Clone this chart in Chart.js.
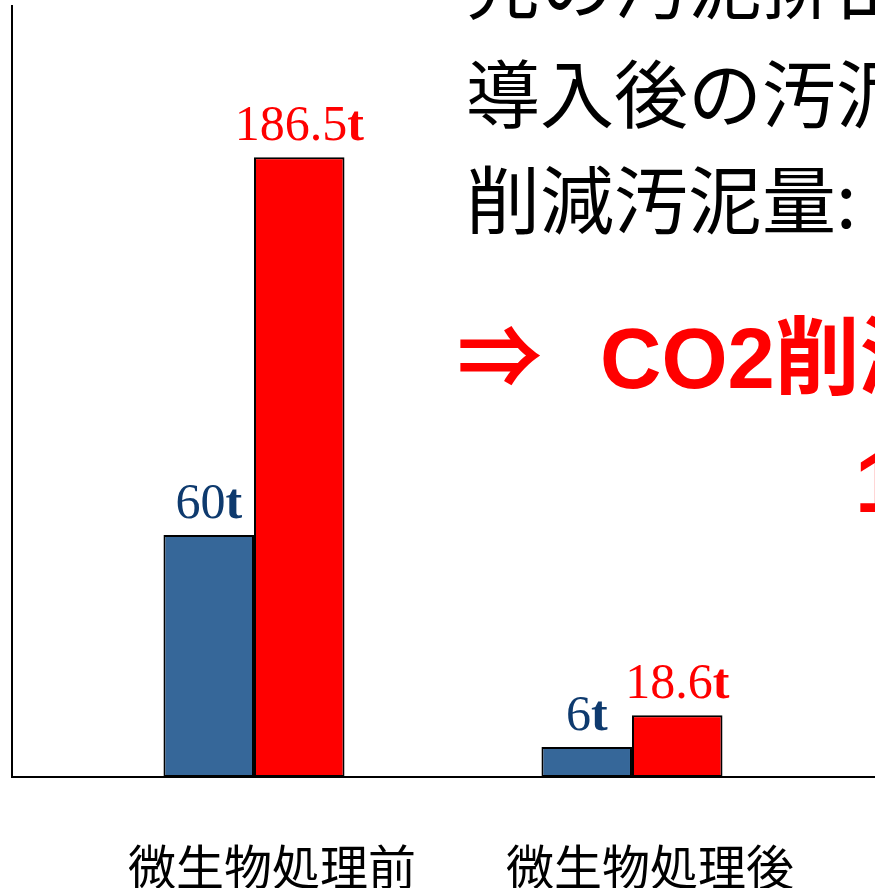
<!DOCTYPE html>
<html>
<head>
<meta charset="utf-8">
<script src="https://cdn.jsdelivr.net/npm/chart.js@4"></script>
<style>
  html, body { margin: 0; padding: 0; background: #fff; overflow: hidden; }
  #wrap { width: 875px; height: 888px; position: relative; }
</style>
</head>
<body>
<div id="wrap"><canvas id="sludgeChart" width="875" height="888"></canvas></div>
<script>
const categories = ["微生物処理前", "微生物処理後"];
const blueValues = [72.8, 9.0];
const redValues = [186.5, 18.6];
const blueLabels = ["60", "6"];
const redLabels = ["186.5", "18.6"];
const unitSuffix = "t";

const noteLines = ["先の汚泥排出量:", "導入後の汚泥排出量:", "削減汚泥量:"];
const redNote = "CO2削減量";

// 棒の上の数値ラベル
const valueLabels = {
    id: 'valueLabels',
    afterDatasetsDraw(chart) {
        const ctx = chart.ctx;
        const sets = [
            { labels: blueLabels, color: '#0e3a6e' },
            { labels: redLabels, color: '#ff0000' }
        ];
        sets.forEach((s, di) => {
            chart.getDatasetMeta(di).data.forEach((bar, i) => {
                const num = s.labels[i];
                ctx.save();
                ctx.fillStyle = s.color;
                ctx.textBaseline = 'alphabetic';
                ctx.textAlign = 'left';
                ctx.font = '50px "Liberation Serif"';
                const w1 = ctx.measureText(num).width;
                ctx.font = 'bold 50px "Liberation Serif"';
                const w2 = ctx.measureText(unitSuffix).width;
                const x0 = bar.x - (w1 + w2) / 2;
                const y = bar.y - 17;
                ctx.font = '50px "Liberation Serif"';
                ctx.fillText(num, x0, y);
                ctx.font = 'bold 50px "Liberation Serif"';
                ctx.fillText(unitSuffix, x0 + w1, y);
                ctx.restore();
            });
        });
    }
};

// スライド上の説明文（右側、はみ出し部分は切れる）
const slideText = {
    id: 'slideText',
    afterDraw(chart) {
        const ctx = chart.ctx;
        ctx.save();
        ctx.textAlign = 'left';
        ctx.textBaseline = 'alphabetic';
        ctx.fillStyle = '#000';
        ctx.font = '74px "Noto Sans CJK JP"';
        ctx.fillText(noteLines[0], 466, 13);
        ctx.fillText(noteLines[1], 466, 122);
        ctx.fillText(noteLines[2], 466, 228);

        ctx.fillStyle = '#ff0000';
        ctx.font = 'bold 85px "Noto Sans CJK JP"';
        ctx.fillText('⇒', 457, 388);
        ctx.font = 'bold 85px "Liberation Sans", "Noto Sans CJK JP"';
        ctx.fillText(redNote, 600, 388);
        ctx.fillText('1', 855, 512);
        ctx.restore();
    }
};

const ctx = document.getElementById('sludgeChart').getContext('2d');

const sludgeChart = new Chart(ctx, {
    type: 'bar',
    data: {
        datasets: [{
            label: 'blue',
            data: categories.map((c, i) => ({ x: i + 1, y: blueValues[i] })),
            backgroundColor: '#366799',
            borderColor: '#000',
            borderWidth: 2,
            borderSkipped: false
        }, {
            label: 'red',
            data: categories.map((c, i) => ({ x: i + 1, y: redValues[i] })),
            backgroundColor: '#ff0000',
            borderColor: '#000',
            borderWidth: 2,
            borderSkipped: false
        }]
    },
    options: {
        responsive: false,
        animation: false,
        devicePixelRatio: 1,
        layout: { padding: { left: 12, top: 6, right: 0, bottom: 0 } },
        plugins: {
            legend: { display: false },
            tooltip: { enabled: false }
        },
        barPercentage: 1,
        categoryPercentage: 0.479,
        scales: {
            x: {
                type: 'linear',
                min: 0.3598,
                max: 2.6429,
                offset: false,
                grid: { display: false, drawTicks: false },
                border: { display: true, color: '#000', width: 2 },
                afterBuildTicks: axis => {
                    axis.ticks = categories.map((c, i) => ({ value: i + 1 }));
                },
                afterFit: axis => {
                    axis.height = 111;
                },
                ticks: {
                    autoSkip: false,
                    maxRotation: 0,
                    padding: 68,
                    labelOffset: 18,
                    color: '#000',
                    font: { family: '"Noto Sans CJK JP"', size: 48, lineHeight: 0.9 },
                    callback: v => categories[v - 1] || ''
                }
            },
            y: {
                min: 0,
                max: 232,
                grid: { display: false, drawTicks: false },
                border: { display: true, color: '#000', width: 2 },
                ticks: { display: false }
            }
        }
    },
    plugins: [valueLabels, slideText]
});
</script>
</body>
</html>
